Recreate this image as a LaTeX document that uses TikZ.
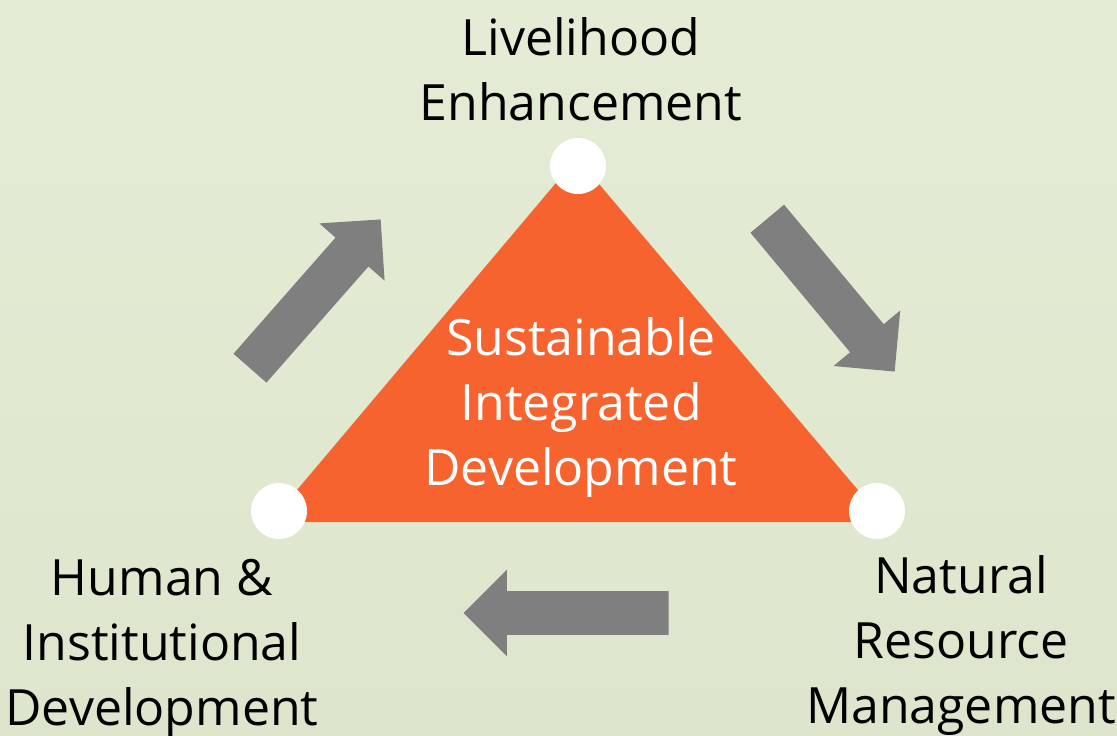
\documentclass[tikz,border=0pt]{standalone}
\usepackage{fontspec}
\setmainfont{Open Sans}
\usetikzlibrary{shapes.arrows}

\definecolor{bgtop}{RGB}{229,236,214}
\definecolor{bgbot}{RGB}{221,230,204}
\definecolor{triorange}{RGB}{246,99,46}
\definecolor{arrowgray}{RGB}{127,127,127}

\tikzset{
	label text/.style={
		align=center,
		font=\fontsize{25}{32.5}\selectfont,
		anchor=base,
		inner sep=0pt,
	},
	corner/.style={circle, fill=white, minimum size=28pt, inner sep=0pt},
	block arrow/.style={
		single arrow,
		fill=arrowgray,
		inner xsep=0pt,
		inner ysep=10.75pt,
		single arrow head extend=10.75pt,
		single arrow tip angle=90,
		minimum height=#1,
		anchor=tip,
	}
}

\begin{document}
\begin{tikzpicture}[x=0.5pt, y=-0.5pt]
	% background
	\shade[top color=bgtop, bottom color=bgbot] (0,0) rectangle (1117,735);
	\useasboundingbox (0,0) rectangle (1117,735);
	
	% triangle
	\coordinate (T1) at (577,158);
	\coordinate (T2) at (270,522);
	\coordinate (T3) at (885,522);
	\fill[triorange] (T1) -- (T2) -- (T3) -- cycle;
	
	\node[corner] (C1) at (578,166) {};
	\node[corner] (C2) at (279,511) {};
	\node[corner] (C3) at (877,511) {};
	
	% arrows
	\node[block arrow=99pt, rotate=48.7] (A1) at (381,219) {};
	\node[block arrow=99.5pt, rotate=-50.2] (A2) at (895,372) {};
	\node[block arrow=102.5pt, rotate=180] (A3) at (463,613) {};
	
	% labels
	\node[label text] (L1) at (581,120) {Livelihood\\Enhancement};
	\node[label text] (L2) at (162,725) {Human \&\\Institutional\\Development};
	\node[label text] (L3) at (961,723) {Natural\\Resource\\Management};
	\node[label text, text=white] (L0) at (581,485) {Sustainable\\Integrated\\Development};
\end{tikzpicture}
\end{document}
